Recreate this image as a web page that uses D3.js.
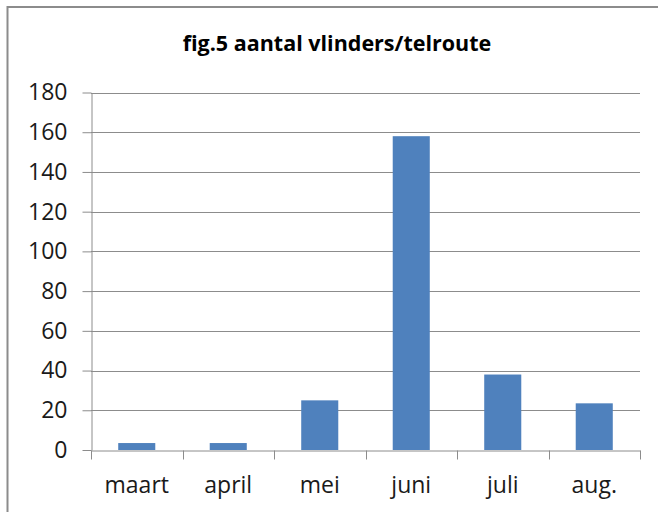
<!DOCTYPE html>
<html>
<head>
<meta charset="utf-8">
<script src="https://cdn.jsdelivr.net/npm/d3@7"></script>
<style>
html,body{margin:0;padding:0;background:#fff;}
svg{display:block;}
</style>
</head>
<body>
<svg id="chart" width="658" height="512"></svg>
<script>
const title = "fig.5 aantal vlinders/telroute";
const categories = ["maart", "april", "mei", "juni", "juli", "aug."];
const values = [3.5, 3.5, 25, 158, 38, 23.5];
const yTicks = [0, 20, 40, 60, 80, 100, 120, 140, 160, 180];

const svg = d3.select("#chart");
const W = 658, H = 512;
const plot = {left: 91, right: 640, top: 92.5, bottom: 450};
const gridColor = "#8c8c8c";
const font = "'Open Sans', sans-serif";

svg.append("rect").attr("width", W).attr("height", H).attr("fill", "#fff");
// chart border (left and top visible)
svg.append("rect")
  .attr("x", 7.5).attr("y", 7).attr("width", W + 20).attr("height", H + 20)
  .attr("fill", "none").attr("stroke", "#8c8c8c").attr("stroke-width", 2);

const x = d3.scaleBand().domain(categories).range([plot.left, plot.right]).padding(0);
const y = d3.scaleLinear().domain([0, 180]).range([plot.bottom, plot.top]);

// gridlines
svg.append("g").selectAll("line").data(yTicks.filter(d => d > 0)).join("line")
  .attr("x1", plot.left).attr("x2", plot.right)
  .attr("y1", d => Math.round(y(d)) + 0.5).attr("y2", d => Math.round(y(d)) + 0.5)
  .attr("stroke", gridColor).attr("stroke-width", 1);

// bars
const barW = x.bandwidth() * 0.405;
svg.append("g").selectAll("rect").data(values).join("rect")
  .attr("x", (d, i) => x(categories[i]) + (x.bandwidth() - barW) / 2)
  .attr("width", barW)
  .attr("y", d => y(d))
  .attr("height", d => y(0) - y(d))
  .attr("fill", "#4f81bd");

// y axis
const yAxis = d3.axisLeft(y).tickValues(yTicks).tickSize(9).tickPadding(15).tickSizeOuter(0);
const ya = svg.append("g").attr("transform", `translate(${plot.left + 0.5},0)`).call(yAxis);
ya.select(".domain").attr("stroke", gridColor);
ya.selectAll(".tick line").attr("stroke", gridColor);
ya.selectAll(".tick text").attr("font-family", font).attr("font-size", 23).attr("fill", "#1a1a1a");

// x axis
const xAxis = d3.axisBottom(x).tickSize(0).tickPadding(0).tickSizeOuter(0);
const xa = svg.append("g").attr("transform", `translate(0,${plot.bottom + 0.5})`).call(xAxis);
xa.select(".domain").attr("stroke", gridColor);
xa.selectAll(".tick text").attr("font-family", font).attr("font-size", 23).attr("fill", "#1a1a1a")
  .attr("dy", null).attr("y", 42);
// category boundary ticks
const bounds = categories.map(c => x(c)).concat([plot.right]);
xa.append("g").selectAll("line").data(bounds).join("line")
  .attr("x1", d => Math.round(d) + 0.5).attr("x2", d => Math.round(d) + 0.5)
  .attr("y1", 0).attr("y2", 9).attr("stroke", gridColor);

// title
svg.append("text").attr("x", 337).attr("y", 51)
  .attr("text-anchor", "middle").attr("font-family", font).attr("font-weight", "bold")
  .attr("font-size", 21.5).attr("fill", "#000").text(title);
</script>
</body>
</html>
